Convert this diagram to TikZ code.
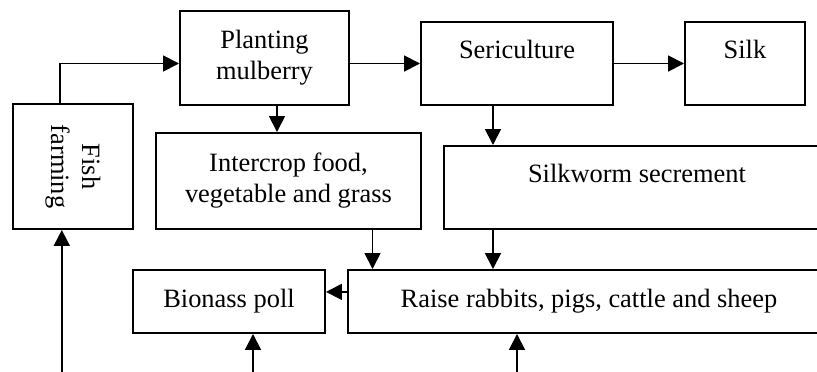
\documentclass[tikz,border=0pt]{standalone}
\usepackage{fontspec}
\setmainfont{Liberation Serif}
\usetikzlibrary{arrows.meta, positioning, calc}

\begin{document}
\begin{tikzpicture}[
  >={Triangle[length=4mm, width=4mm]},
  every node/.style={font=\fontsize{18.8pt}{22pt}\selectfont},
  box/.style={draw, line width=1.4pt, align=center, inner sep=2pt},
  hightext/.style={text depth=0.7cm},
  link/.style={->, line width=1.3pt}
]
\useasboundingbox (0,0) rectangle (20.425,-9.3);
\clip (0,0) rectangle (20.425,-9.3);
% boxes
\node[box, minimum width=4.225cm, minimum height=2.35cm] (plant) at (6.6125,-1.45) {Planting\\mulberry};
\node[box, hightext, minimum width=4.8cm, minimum height=2.075cm] (seri) at (12.925,-1.5875) {Sericulture};
\node[box, hightext, minimum width=3cm, minimum height=2.075cm] (silk) at (18.625,-1.5875) {Silk};
\node[box, minimum width=3cm, minimum height=3.125cm] (fish) at (1.825,-4.1625) {};
\node[rotate=-90, align=center] (fishtxt) at (fish.center) {Fish\\farming};
\node[box, minimum width=6.625cm, minimum height=2.4cm] (inter) at (7.2125,-4.525) {Intercrop food,\\vegetable and grass};
\node[box, hightext, minimum width=9.65cm, minimum height=2.075cm] (worm) at (15.925,-4.6875) {Silkworm secrement};
\node[box, minimum width=12.05cm, minimum height=1.575cm] (raise) at (14.725,-7.5375) {Raise rabbits, pigs, cattle and sheep};
\node[box, minimum width=4.8cm, minimum height=1.575cm] (bio) at (5.725,-7.5375) {Bionass poll};
% connectors
\coordinate (bot) at (0,-9.8);
\coordinate (sx) at ([xshift=-0.6cm]seri.south);
\coordinate (px) at ([xshift=0.3125cm]plant.south);
\coordinate (ix) at ([xshift=2.1cm]inter.south);
\coordinate (fx) at ([xshift=-0.28cm]fish.south);
\coordinate (bx) at ([xshift=0.6cm]bio.south);
\coordinate (rx) at ([xshift=-1.8cm]raise.south);
\draw[link] ([xshift=-0.325cm]fish.north) |- (plant.west |- seri.west);
\draw[link] (plant.east |- seri.west) -- (seri.west);
\draw[link] (seri.east) -- (silk.west);
\draw[link] (px) -- (px |- inter.north);
\draw[link] (sx) -- (sx |- worm.north);
\draw[link] (ix) -- (ix |- raise.north);
\draw[link] (sx |- worm.south) -- (sx |- raise.north);
\draw[link] ([yshift=0.24cm]raise.west) -- ([yshift=0.24cm]bio.east);
\draw[link] (fx |- bot) -- (fx);
\draw[link] (bx |- bot) -- (bx);
\draw[link] (rx |- bot) -- (rx);
\end{tikzpicture}
\end{document}
